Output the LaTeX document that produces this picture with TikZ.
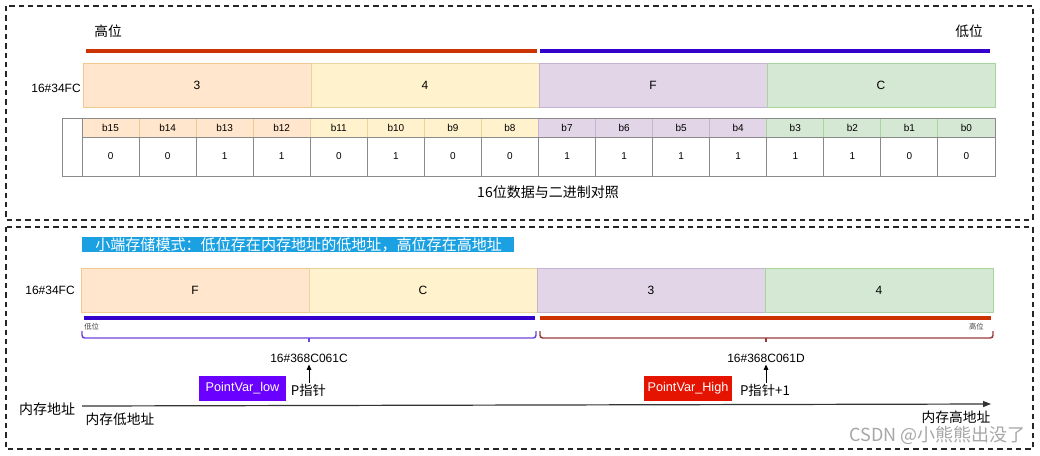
\documentclass[tikz,border=0pt]{standalone}
\usepackage{fontspec}
\setmainfont{Liberation Sans}
\newfontfamily\cjk{Noto Sans CJK SC}
\usetikzlibrary{arrows.meta}
\definecolor{orF}{HTML}{FFE6CC}\definecolor{orD}{HTML}{F0C890}
\definecolor{yeF}{HTML}{FFF2CC}\definecolor{yeD}{HTML}{E8D49C}
\definecolor{puF}{HTML}{E1D5E7}\definecolor{puD}{HTML}{C6B3D2}
\definecolor{grF}{HTML}{D5E8D4}\definecolor{grD}{HTML}{A8D49F}
\definecolor{redL}{HTML}{CC3300}\definecolor{bluL}{HTML}{3300CC}
\definecolor{titleC}{HTML}{1BA1E2}
\definecolor{violetC}{HTML}{6A00FF}\definecolor{redC}{HTML}{E51400}
\definecolor{brB}{HTML}{6E42DC}\definecolor{brR}{HTML}{983A3A}
\definecolor{frameC}{HTML}{8A8A8A}
\begin{document}
\begin{tikzpicture}[x=0.75pt,y=-0.75pt,
  wh/.style 2 args={minimum width=#1*0.75pt,minimum height=#2*0.75pt,inner sep=0pt,outer sep=0pt},
  cell/.style={line width=0.75pt,font=\fontsize{9}{10}\selectfont},
  hdr/.style={line width=0.75pt,font=\fontsize{7.5}{9}\selectfont},
  val/.style={draw=frameC,fill=white,line width=0.75pt,font=\fontsize{7.5}{9}\selectfont},
  txt/.style={inner sep=0pt,font=\fontsize{9}{11}\selectfont},
  cjktxt/.style={inner sep=0pt,font=\cjk\fontsize{10.3}{12}\selectfont},
  small/.style={inner sep=0pt,text=black!75,font=\cjk\fontsize{5.5}{6}\selectfont},
  dbox/.style={draw=black!85,line width=1.1pt,dash pattern=on 4pt off 3pt},
  bar/.style={line width=3pt},
  brk/.style={line width=1.1pt,rounded corners=2pt},
  ptr/.style={line width=0.75pt,-{Triangle[length=4pt,width=3.5pt]}},
  axis/.style={draw=black!80,line width=0.9pt,-{Triangle[length=6pt,width=4.5pt]}},
  tag/.style={text=white,inner sep=0pt,font=\fontsize{9.5}{11}\selectfont}]
\useasboundingbox (0,0) rectangle (1040,455);

% dashed frames
\draw[dbox] (6,6) rectangle (1033,220);
\draw[dbox] (6,227) rectangle (1033,449);

% ---------- top section ----------
\node[cjktxt] (hi) at (108,31) {高位};
\node[cjktxt] (lo) at (969,31) {低位};
\draw[bar,redL] (86,51) -- (537,51);
\draw[bar,bluL] (540,51) -- (990,51);

\foreach \lab/\fc/\dc [count=\i from 0] in {3/orF/orD,4/yeF/yeD,F/puF/puD,C/grF/grD}
  \node[cell,wh={228}{44},fill=\fc,draw=\dc] (t\i) at ({83+228*\i+114},85) {\lab};
\node[txt,anchor=east] (tval) at (81,88) {16\#34FC};

% bit table
\node[draw=frameC,fill=white,line width=0.75pt,wh={20}{58}] (blank) at (72,147) {};
\foreach \fc/\dc [count=\g from 0] in {orF/orD,yeF/yeD,puF/puD,grF/grD}
  \foreach \j in {0,...,3} {
    \pgfmathtruncatemacro\k{4*\g+\j}
    \pgfmathtruncatemacro\b{15-\k}
    \node[hdr,fill=\fc,draw=\dc,wh={57.0625}{19}] (b\b) at ({82+57.0625*(\k+0.5)},127.5) {b\b};
  }
\foreach \v [count=\k from 0] in {0,0,1,1,0,1,0,0,1,1,1,1,1,1,0,0}
  \node[val,wh={57.0625}{39}] (v\k) at ({82+57.0625*(\k+0.5)},156.5) {\v};
\draw[frameC,line width=0.75pt] (blank.north west) rectangle (v15.south east);
\draw[frameC,line width=0.75pt] (blank.north east) -- (blank.south east);
\node[cjktxt,font=\cjk\fontsize{10.5}{12}\selectfont] (cap) at (548,192) {16位数据与二进制对照};

% ---------- bottom section ----------
\node[fill=titleC,text=white,anchor=west,minimum height=15*0.75pt,inner ysep=0pt,inner xsep=13*0.75pt,
      text width=406*0.75pt,align=left,font=\cjk\fontsize{11.3}{12}\selectfont] (title) at (82,244.5)
      {小端存储模式：低位存在内存地址的低地址，高位存在高地址};

\foreach \lab/\fc/\dc [count=\i from 0] in {F/orF/orD,C/yeF/yeD,3/puF/puD,4/grF/grD}
  \node[cell,wh={228}{44},fill=\fc,draw=\dc] (m\i) at ({81+228*\i+114},290) {\lab};
\node[txt,anchor=east] (mval) at (75,290) {16\#34FC};

\draw[bar,bluL] (84,318) -- (535,318);
\draw[bar,redL] (540,318) -- (991,318);
\node[small,anchor=west] (lo2) at (84,327) {低位};
\node[small,anchor=east] (hi2) at (984,327) {高位};

% brackets
\draw[brk,brB] (82,331) -- (82,338) -- (536,338) -- (536,331);
\draw[brB,line width=1.1pt] (309,338) -- (309,342);
\draw[brk,brR] (540,331) -- (540,338) -- (993,338) -- (993,331);
\draw[brR,line width=1.1pt] (766,338) -- (766,342);

\node[txt] (addr1) at (309,358) {16\#368C061C};
\node[txt] (addr2) at (766,358) {16\#368C061D};

\node[tag,fill=violetC,wh={87}{25}] (plow) at (242.5,388.5) {PointVar\_low};
\node[tag,fill=redC,wh={88}{25}] (phigh) at (688,388.5) {PointVar\_High};
\node[cjktxt,font=\cjk\fontsize{10}{12}\selectfont] (p1) at (308.5,390) {P指针};
\node[cjktxt,font=\cjk\fontsize{10}{12}\selectfont] (p2) at (765,390) {P指针+1};
\draw[ptr] (p1.north -| addr1.south) ++(0,-1) coordinate (p1t) (p1t) -- ([yshift=-1.5pt]addr1.south);
\draw[ptr] (p2.north -| addr2.south) ++(0,-1) coordinate (p2t) (p2t) -- ([yshift=-1.5pt]addr2.south);

% memory axis
\coordinate (axL) at (82,406);
\coordinate (axR) at (991,404);
\draw[axis] (axL) -- (axR);
\node[cjktxt,font=\cjk\fontsize{10.5}{12}\selectfont] (mem) at (47,409) {内存地址};
\node[cjktxt] (memlo) at (120,419) {内存低地址};
\node[cjktxt] (memhi) at (956,417) {内存高地址};

\node[inner sep=0pt,text=black!35,font=\cjk\fontsize{13.5}{15}\selectfont,anchor=east] (wm) at (1026,435) {CSDN @小熊熊出没了};
\end{tikzpicture}
\end{document}
